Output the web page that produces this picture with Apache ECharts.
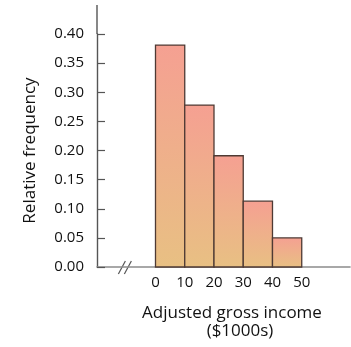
<!DOCTYPE html>
<html>
<head>
<meta charset="utf-8">
<script src="https://cdn.jsdelivr.net/npm/echarts@6/dist/echarts.min.js"></script>
<style>
  html, body { margin: 0; padding: 0; background: #fff; }
  #chart { width: 351px; height: 347px; }
</style>
</head>
<body>
<div id="chart"></div>
<script>
// Income classes (lower and upper bounds, $1000s) and their relative frequencies
const classLower = [0, 10, 20, 30, 40];
const classUpper = [10, 20, 30, 40, 50];
const relFreq = [0.381, 0.278, 0.191, 0.113, 0.050];

const xTickValues = [0, 10, 20, 30, 40, 50];

const FONT = '"Open Sans", "Noto Sans", sans-serif';
const TXT = '#111';
const AXIS_DARK = '#555';

const chart = echarts.init(document.getElementById('chart'), null, { renderer: 'canvas' });

const histData = classLower.map((lo, i) => [lo, classUpper[i], relFreq[i]]);

const option = {
  animation: false,
  backgroundColor: '#fff',
  grid: { left: 97, right: 1, top: 34, bottom: 80, containLabel: false },
  xAxis: {
    type: 'value',
    min: -20,
    max: 66.5,
    axisLine: { show: true, onZero: false, lineStyle: { color: '#8c8c8c', width: 1.6 } },
    axisTick: { show: false },
    splitLine: { show: false },
    axisLabel: {
      customValues: xTickValues,
      color: TXT, fontFamily: FONT, fontSize: 15, margin: 8
    }
  },
  yAxis: {
    type: 'value',
    min: 0,
    max: 0.40,
    interval: 0.05,
    name: 'Relative frequency',
    nameLocation: 'middle',
    nameRotate: 90,
    nameGap: 58,
    nameTextStyle: { color: TXT, fontFamily: FONT, fontSize: 17 },
    axisLine: { show: true, onZero: false, lineStyle: { color: AXIS_DARK, width: 1.4 } },
    axisTick: { show: true, inside: true, length: 8, lineStyle: { color: AXIS_DARK, width: 1.2 } },
    splitLine: { show: false },
    axisLabel: {
      formatter: v => v.toFixed(2),
      color: TXT, fontFamily: FONT, fontSize: 15, margin: 13
    }
  },
  series: [{
    type: 'custom',
    data: histData,
    encode: { x: [0, 1], y: 2 },
    clip: false,
    renderItem: function (params, api) {
      const p0 = api.coord([api.value(0), api.value(2)]);
      const p1 = api.coord([api.value(1), 0]);
      return {
        type: 'rect',
        shape: { x: p0[0], y: p0[1], width: p1[0] - p0[0], height: p1[1] - p0[1] },
        style: {
          fill: new echarts.graphic.LinearGradient(0, 0, 0, 1, [
            { offset: 0, color: '#f5a092' },
            { offset: 1, color: '#e8c083' }
          ]),
          stroke: '#4e3a34',
          lineWidth: 1.3
        }
      };
    }
  }]
};

chart.setOption(option);

// Axis titles, the y-axis line running above the last tick, and the break mark on the x-axis
const axisTopPt = chart.convertToPixel({ gridIndex: 0 }, [-20, 0.40]);
const breakPt = chart.convertToPixel({ gridIndex: 0 }, [-10.3, 0]);
chart.setOption({
  graphic: [
    {
      type: 'line', shape: { x1: axisTopPt[0], y1: 5, x2: axisTopPt[0], y2: axisTopPt[1] },
      style: { stroke: AXIS_DARK, lineWidth: 1.4 }
    },
    {
      type: 'text', x: 232, y: 313,
      style: { text: 'Adjusted gross income', fill: TXT, font: '17px ' + FONT, align: 'center', verticalAlign: 'middle' }
    },
    {
      type: 'text', x: 240, y: 331,
      style: { text: '($1000s)', fill: TXT, font: '17px ' + FONT, align: 'center', verticalAlign: 'middle' }
    },
    {
      type: 'group', x: breakPt[0], y: breakPt[1],
      children: [
        { type: 'rect', shape: { x: -5, y: -2, width: 8, height: 4 }, style: { fill: '#fff' } },
        { type: 'line', shape: { x1: -7, y1: 7, x2: 0, y2: -6 }, style: { stroke: AXIS_DARK, lineWidth: 1.2 } },
        { type: 'line', shape: { x1: -1, y1: 7, x2: 6, y2: -6 }, style: { stroke: AXIS_DARK, lineWidth: 1.2 } }
      ]
    }
  ]
});
</script>
</body>
</html>
